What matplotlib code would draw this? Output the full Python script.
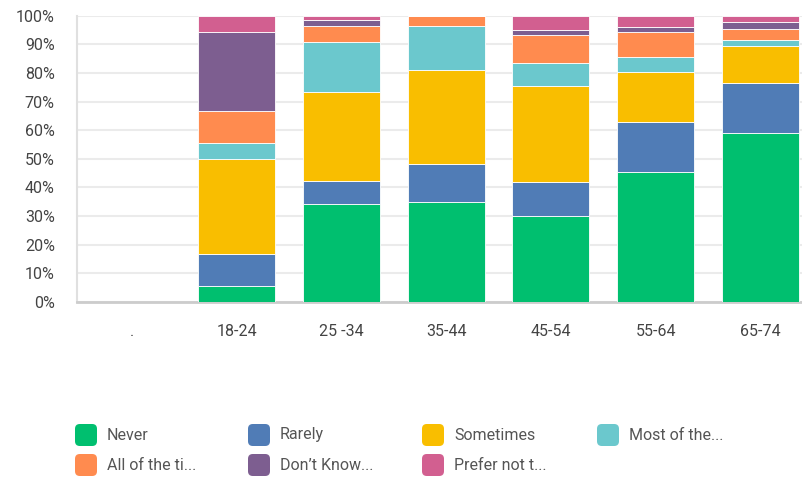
import numpy as np
import matplotlib.pyplot as plt
from matplotlib.patches import FancyBboxPatch

# Age groups (first category has no responses)
categories = [".", "18-24", "25 -34", "35-44", "45-54", "55-64", "65-74"]

# Percent of respondents per answer, per age group
never     = [0, 5.6, 34.4, 35.0, 30.2, 45.5, 59.2]
rarely    = [0, 11.1, 7.9, 13.1, 11.6, 17.3, 17.4]
sometimes = [0, 33.3, 31.0, 33.1, 33.6, 17.4, 12.7]
most      = [0, 5.6, 17.4, 15.3, 8.0, 5.3, 2.1]
all_time  = [0, 11.1, 5.8, 3.5, 10.0, 9.0, 4.1]
dont_know = [0, 27.8, 2.1, 0, 1.6, 1.5, 2.2]
prefer    = [0, 5.5, 1.4, 0, 5.0, 4.0, 2.3]

series = [never, rarely, sometimes, most, all_time, dont_know, prefer]
labels = ["Never", "Rarely", "Sometimes", "Most of the...",
          "All of the ti...", "Don\u2019t Know...", "Prefer not t..."]
colors = ["#00BF6F", "#507CB6", "#F9BE00", "#6BC8CD",
          "#FF8B4F", "#7D5E90", "#D25F90"]

plt.rcParams['font.family'] = ['Roboto', 'DejaVu Sans']

fig = plt.figure(figsize=(8.03, 4.8), dpi=100)
ax = fig.add_axes([0.096, 0.371, 0.904, 0.596])

x = np.arange(len(categories))
bottom = np.zeros(len(categories))
for vals, col in zip(series, colors):
    vals = np.array(vals)
    ax.bar(x, vals, bottom=bottom, width=0.735, color=col, edgecolor='white',
           linewidth=0.6, zorder=3)
    bottom += vals

# the original chart is cut off slightly on the right
ax.set_xlim(-0.522, 6.405)
ax.set_ylim(0, 100)
ax.set_yticks(np.arange(0, 101, 10))
ax.set_yticklabels([f"{v}%" for v in range(0, 101, 10)])
ax.set_xticks(x)
ax.set_xticklabels(categories)

ax.grid(axis='y', color='#ebebeb', linewidth=1.5, zorder=0)
ax.tick_params(axis='both', length=0, labelsize=11.5, labelcolor='#444444')
ax.tick_params(axis='x', pad=16)
ax.tick_params(axis='y', pad=16)
for s in ['top', 'right']:
    ax.spines[s].set_visible(False)
ax.spines['left'].set_color('#e0e0e0')
ax.spines['left'].set_linewidth(1.5)
ax.spines['bottom'].set_color('#cccccc')
ax.spines['bottom'].set_linewidth(2)

# Legend: 4 columns, filled row by row, with rounded swatches
W, H = 803.0, 480.0
col_x = [75, 248, 422, 597]
row_y = [435, 465]
for i, (lab, col) in enumerate(zip(labels, colors)):
    cx = col_x[i % 4]
    cy = row_y[i // 4]
    sq = FancyBboxPatch((cx / W, (H - cy - 11) / H), 22 / W, 22 / H,
                        boxstyle="round,pad=0,rounding_size=0.006",
                        transform=fig.transFigure, facecolor=col,
                        edgecolor='none', mutation_aspect=W / H)
    fig.add_artist(sq)
    fig.text((cx + 32) / W, (H - cy) / H, lab, va='center', ha='left',
             fontsize=11.5, color='#555555')

fig.savefig("out.png", dpi=100)
